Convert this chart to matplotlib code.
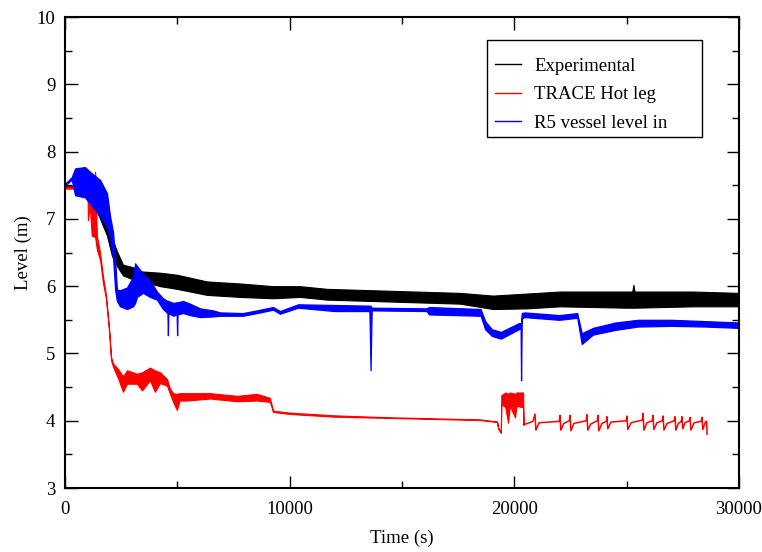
import matplotlib
matplotlib.use('Agg')
import matplotlib.pyplot as plt
from matplotlib.lines import Line2D
from matplotlib.patches import Rectangle
from matplotlib.ticker import MultipleLocator

plt.rcParams['font.family'] = ['Liberation Serif', 'DejaVu Serif']

# Experimental level (noisy band: lower / upper envelope)
exp_t = [0, 900, 1000, 1500, 1870, 2090, 2310, 2580, 3030, 3340, 4230, 4980,
         6320, 7790, 9260, 10460, 11650, 14600, 17580, 19050, 20560, 22030,
         25000, 25250, 25300, 25350, 27950, 30000]
exp_lo = [7.46, 7.46, 7.30, 7.05, 6.75, 6.45, 6.30, 6.16, 6.10, 6.08, 6.00, 5.96,
          5.87, 5.84, 5.82, 5.84, 5.80, 5.77, 5.74, 5.66, 5.67, 5.70,
          5.68, 5.68, 5.68, 5.68, 5.70, 5.70]
exp_hi = [7.49, 7.49, 7.60, 7.45, 6.93, 6.72, 6.52, 6.32, 6.28, 6.22, 6.20, 6.17,
          6.07, 6.04, 6.00, 6.00, 5.96, 5.93, 5.90, 5.86, 5.89, 5.92,
          5.92, 5.92, 6.02, 5.92, 5.92, 5.90]

# RELAP5 vessel level
r5_t = [0, 300, 450, 890, 1110, 1560, 1870, 2000, 2140, 2230, 2310, 2450, 2760,
        3030, 3120, 3200, 3470, 3780, 4090, 4360, 4560, 4580, 4600, 4810, 4970,
        4990, 5010, 5250, 5560, 6010, 6590, 6900, 7920, 8540, 9260, 9570, 10370,
        12000, 13550, 13600, 13650, 16100, 16200, 18500, 18700, 19000, 19400,
        20200, 20280, 20300, 20330, 20450, 22000, 22800, 23000, 23500, 24500,
        25500, 27000, 28500, 30000]
r5_lo = [7.50, 7.58, 7.35, 7.32, 7.23, 7.05, 6.88, 6.72, 6.42, 5.95, 5.78, 5.70, 5.66,
         5.70, 5.75, 5.84, 5.90, 5.84, 5.80, 5.66, 5.60, 5.27, 5.60, 5.56, 5.58,
         5.27, 5.58, 5.60, 5.57, 5.54, 5.55, 5.56, 5.56, 5.60, 5.65, 5.59, 5.68,
         5.63, 5.63, 4.75, 5.64, 5.63, 5.58, 5.56, 5.36, 5.26, 5.22,
         5.36, 5.38, 4.60, 5.52, 5.54, 5.50, 5.53, 5.14, 5.28, 5.35,
         5.40, 5.41, 5.40, 5.38]
r5_hi = [7.52, 7.62, 7.75, 7.77, 7.70, 7.58, 7.38, 7.05, 6.80, 6.40, 5.95, 5.94, 5.98,
         6.14, 6.34, 6.30, 6.19, 6.09, 5.92, 5.82, 5.78, 5.78, 5.78, 5.75, 5.76,
         5.76, 5.76, 5.78, 5.74, 5.67, 5.64, 5.61, 5.60, 5.64, 5.69, 5.63, 5.73,
         5.72, 5.71, 5.71, 5.68, 5.67, 5.69, 5.66, 5.48, 5.36, 5.32,
         5.45, 5.45, 5.45, 5.60, 5.61, 5.57, 5.60, 5.30, 5.38, 5.46,
         5.50, 5.50, 5.48, 5.46]

# TRACE hot leg level, first part (noisy band)
trace_t = [0, 1000, 1020, 1100, 1190, 1340, 1420, 1560, 1690, 1820, 1960, 2050,
           2140, 2360, 2580, 2760, 3200, 3430, 3780, 4000, 4230, 4540, 4670,
           4810, 4980, 5100, 5430, 6450, 7650, 8540, 9120, 9260, 10010, 12000,
           14600, 18470, 19230, 19280, 19400, 19420, 19600, 19720, 19800, 20030,
           20100, 20390, 20410]
trace_lo = [7.45, 7.45, 6.98, 7.20, 6.75, 6.73, 6.54, 6.39, 6.05, 5.82, 5.33, 4.90,
            4.80, 4.63, 4.43, 4.55, 4.55, 4.45, 4.60, 4.43, 4.56, 4.52, 4.40,
            4.28, 4.16, 4.30, 4.30, 4.33, 4.29, 4.30, 4.28, 4.13, 4.10, 4.06,
            4.04, 4.01, 3.98, 3.88, 3.82, 4.25, 4.20, 3.97, 4.22, 4.05,
            4.22, 4.20, 3.94]
trace_hi = [7.48, 7.48, 7.50, 7.55, 7.15, 7.70, 6.75, 6.50, 6.15, 5.88, 5.38, 4.95,
            4.85, 4.77, 4.66, 4.75, 4.70, 4.72, 4.79, 4.75, 4.72, 4.62, 4.48,
            4.41, 4.40, 4.41, 4.41, 4.41, 4.37, 4.40, 4.34, 4.15, 4.12, 4.08,
            4.05, 4.02, 3.99, 3.90, 3.83, 4.38, 4.42, 4.40, 4.42, 4.40,
            4.42, 4.42, 3.95]

# TRACE hot leg level, sawtooth part
saw_t = [20410, 20830, 20920, 20960, 21100, 22000, 22030, 22070, 22200, 22450,
         22480, 22520, 22650, 23200, 23230, 23270, 23400, 23690, 23720, 23760,
         23900, 24090, 24120, 24160, 24300, 24980, 25010, 25050, 25200, 25700,
         25730, 25770, 25900, 26140, 26170, 26210, 26350, 26590, 26620, 26660,
         26800, 27120, 27150, 27190, 27300, 27430, 27460, 27500, 27600, 27790,
         27820, 27860, 28000, 28320, 28350, 28390, 28500, 28560, 28580]
saw_y = [3.94, 3.99, 4.10, 3.86, 3.97, 3.99, 4.08, 3.86, 3.96, 4.00,
         4.08, 3.85, 3.96, 4.00, 4.09, 3.86, 3.95, 4.00, 4.08, 3.85,
         3.96, 3.99, 4.06, 3.88, 3.98, 4.00, 4.07, 3.87, 3.97, 4.01,
         4.11, 3.86, 3.97, 4.00, 4.08, 3.87, 3.97, 4.00, 4.07, 3.86,
         3.96, 4.00, 4.06, 3.86, 3.96, 3.99, 4.06, 3.88, 3.97, 4.00,
         4.05, 3.86, 3.97, 3.99, 4.05, 3.87, 3.98, 3.99, 3.80]

labels = ['Experimental', 'TRACE Hot leg', 'R5 vessel level in']
colors = ['black', 'red', 'blue']

fs = 13.5
fig = plt.figure(figsize=(7.62, 5.52), dpi=100)
ax = fig.add_axes([0.0853, 0.1159, 0.8845, 0.8533])

ax.fill_between(exp_t, exp_lo, exp_hi, color='black', lw=0.8)
ax.fill_between(trace_t, trace_lo, trace_hi, color='red', lw=0.8)
ax.plot(saw_t, saw_y, color='red', lw=1.1)
ax.fill_between(r5_t, r5_lo, r5_hi, color='blue', lw=0.9)

ax.set_xlim(0, 30000)
ax.set_ylim(3, 10)
ax.xaxis.set_major_locator(MultipleLocator(10000))
ax.xaxis.set_minor_locator(MultipleLocator(5000))
ax.yaxis.set_major_locator(MultipleLocator(1))
ax.yaxis.set_minor_locator(MultipleLocator(0.5))
ax.tick_params(which='both', direction='in', top=True, right=True, width=1.0,
               labelsize=fs, colors='black')
ax.tick_params(which='major', length=9, pad=7)
ax.tick_params(which='minor', length=5)
ax.tick_params(axis='x', which='major', pad=9)
for s in ax.spines.values():
    s.set_linewidth(1.5)

ax.set_xlabel('Time (s)', fontsize=fs, labelpad=9)
ax.set_ylabel('Level (m)', fontsize=fs, labelpad=3)

# legend box (frame drawn separately, wider than its text as in the original)
ax.add_patch(Rectangle((0.626, 0.745), 0.319, 0.206, transform=ax.transAxes,
                       facecolor='white', edgecolor='black', lw=1.0, zorder=4))
handles = [Line2D([], [], color=c, lw=1.0) for c in colors]
leg = ax.legend(handles, labels, loc='upper left', bbox_to_anchor=(0.626, 0.931),
                borderaxespad=0, frameon=False, fontsize=fs, handlelength=1.4,
                labelspacing=0.62, borderpad=0.42, handletextpad=0.7)
leg.set_zorder(5)

fig.savefig('out.png', dpi=100)
